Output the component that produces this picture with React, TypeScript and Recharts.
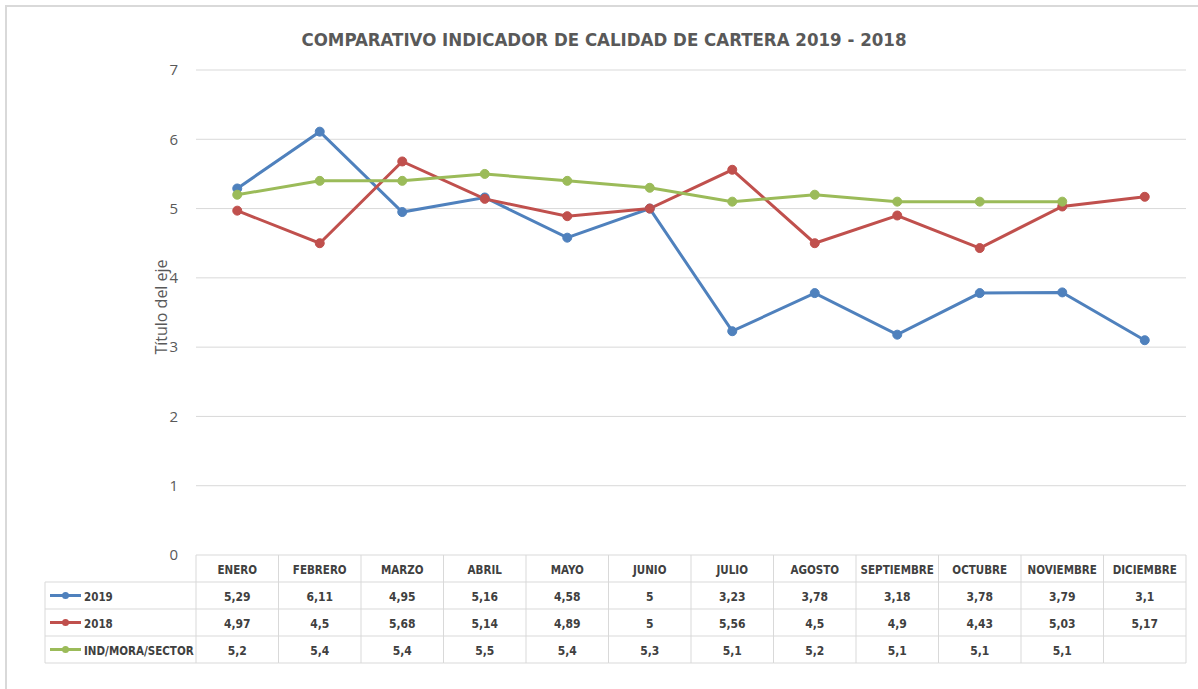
import { LineChart, Line, XAxis, YAxis, CartesianGrid } from 'recharts';

const months = ['ENERO', 'FEBRERO', 'MARZO', 'ABRIL', 'MAYO', 'JUNIO', 'JULIO', 'AGOSTO', 'SEPTIEMBRE', 'OCTUBRE', 'NOVIEMBRE', 'DICIEMBRE'];
const y2019 = [5.29, 6.11, 4.95, 5.16, 4.58, 5, 3.23, 3.78, 3.18, 3.78, 3.79, 3.1];
const y2018 = [4.97, 4.5, 5.68, 5.14, 4.89, 5, 5.56, 4.5, 4.9, 4.43, 5.03, 5.17];
const sector: (number | null)[] = [5.2, 5.4, 5.4, 5.5, 5.4, 5.3, 5.1, 5.2, 5.1, 5.1, 5.1, null];
const yTicks = [0, 1, 2, 3, 4, 5, 6, 7];

const series = [
  { key: 'y2019', name: '2019', color: '#4F81BD', values: y2019 },
  { key: 'y2018', name: '2018', color: '#C0504D', values: y2018 },
  { key: 'sector', name: 'IND/MORA/SECTOR', color: '#9BBB59', values: sector },
];

const data = months.map((m, i) => ({
  month: m,
  y2019: y2019[i],
  y2018: y2018[i],
  sector: sector[i],
}));

const W = 1198;
const H = 689;
const PLOT_LEFT = 196;
const PLOT_RIGHT = 1186;
const PLOT_TOP = 70;
const PLOT_BOTTOM = 555;
const ROW_H = 27;
const BAND = (PLOT_RIGHT - PLOT_LEFT) / months.length;
const TABLE_LEFT = 45;
const FONT = '"DejaVu Sans Condensed", "Liberation Sans Narrow", "Open Sans", sans-serif';
const GRID = '#D9D9D9';
const TEXT = '#404040';

const fmt = (v: number | null) => (v === null ? '' : String(v).replace('.', ','));

function TableTick(props: any) {
  const { x, payload } = props;
  const i = payload.index;
  const left = x - BAND / 2;
  const right = x + BAND / 2;
  const top = PLOT_BOTTOM;
  return (
    <g>
      <line x1={left} x2={left} y1={top} y2={top + ROW_H * 4} stroke={GRID} />
      {i === months.length - 1 && <line x1={right} x2={right} y1={top} y2={top + ROW_H * 4} stroke={GRID} />}
      {[1, 2, 3, 4].map((r) => (
        <line key={r} x1={left} x2={right} y1={top + ROW_H * r} y2={top + ROW_H * r} stroke={GRID} />
      ))}
      <text x={x} y={top + ROW_H * 0.5 + 5} textAnchor="middle" fontFamily={FONT} fontSize={11.5} fontWeight="bold" fill={TEXT}>
        {payload.value}
      </text>
      {series.map((s, r) => (
        <text key={s.key} x={x} y={top + ROW_H * (r + 1.5) + 5} textAnchor="middle" fontFamily={FONT} fontSize={12} fontWeight="bold" fill={TEXT}>
          {fmt(s.values[i])}
        </text>
      ))}
      {i === 0 && (
        <g>
          <line x1={TABLE_LEFT} x2={TABLE_LEFT} y1={top + ROW_H} y2={top + ROW_H * 4} stroke={GRID} />
          {[1, 2, 3, 4].map((r) => (
            <line key={r} x1={TABLE_LEFT} x2={left} y1={top + ROW_H * r} y2={top + ROW_H * r} stroke={GRID} />
          ))}
          {series.map((s, r) => {
            const cy = top + ROW_H * (r + 1.5);
            return (
              <g key={s.key}>
                <line x1={50} x2={81} y1={cy} y2={cy} stroke={s.color} strokeWidth={3} />
                <circle cx={65.5} cy={cy} r={3.5} fill={s.color} />
                <text x={84} y={cy + 5} fontFamily={FONT} fontSize={11.5} fontWeight="bold" fill={TEXT}>
                  {s.name}
                </text>
              </g>
            );
          })}
        </g>
      )}
    </g>
  );
}

export default function App() {
  return (
    <div style={{ position: 'absolute', left: 0, top: 0, width: W, height: H, background: '#fff', overflow: 'hidden' }}>
      <div style={{ position: 'absolute', left: 5, top: 5, width: W, height: H, border: '2px solid #D9D9D9', boxSizing: 'border-box' }} />
      <div
        style={{
          position: 'absolute',
          left: 0,
          top: 29,
          width: 1208,
          textAlign: 'center',
          fontFamily: FONT,
          fontWeight: 'bold',
          fontSize: 18.5,
          color: '#595959',
        }}
      >
        COMPARATIVO INDICADOR DE CALIDAD DE CARTERA 2019 - 2018
      </div>
      <div
        style={{
          position: 'absolute',
          left: 161,
          top: 307,
          transform: 'translate(-50%, -50%) rotate(-90deg)',
          fontFamily: '"Open Sans", sans-serif',
          fontSize: 16,
          color: '#595959',
          whiteSpace: 'nowrap',
        }}
      >
        Título del eje
      </div>
      <LineChart
        width={W}
        height={H}
        data={data}
        margin={{ top: PLOT_TOP, right: W - PLOT_RIGHT, bottom: 0, left: PLOT_LEFT - 40 }}
        style={{ position: 'absolute', left: 0, top: 0 }}
      >
        <CartesianGrid vertical={false} stroke={GRID} />
        <YAxis
          width={40}
          domain={[0, 7]}
          ticks={yTicks}
          interval={0}
          axisLine={false}
          tickLine={false}
          tickMargin={12}
          tick={{ fontFamily: '"Open Sans", sans-serif', fontSize: 15, fill: '#595959' }}
        />
        <XAxis
          dataKey="month"
          height={H - PLOT_BOTTOM}
          axisLine={false}
          tickLine={false}
          interval={0}
          padding={{ left: BAND / 2, right: BAND / 2 }}
          tick={<TableTick />}
        />
        {series.map((s) => (
          <Line
            key={s.key}
            dataKey={s.key}
            name={s.name}
            stroke={s.color}
            strokeWidth={3}
            dot={{ r: 4.5, fill: s.color, stroke: s.color, strokeWidth: 1 }}
            activeDot={false}
            isAnimationActive={false}
          />
        ))}
      </LineChart>
    </div>
  );
}
